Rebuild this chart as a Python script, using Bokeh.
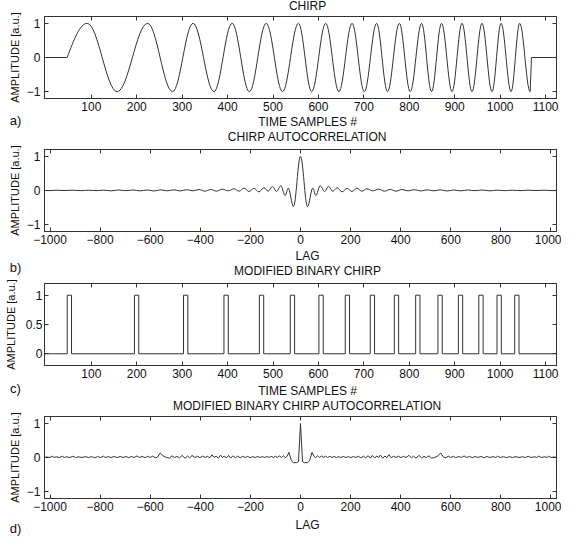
import numpy as np
from bokeh.plotting import figure
from bokeh.models import Range1d, LinearAxis, FixedTicker, ColumnDataSource
from bokeh.core.properties import value
from bokeh.layouts import column, row
from bokeh.embed import file_html
from bokeh.resources import INLINE

# ---------------- data ----------------
# a) chirp: start/stop of the burst and the positions of its extrema
chirp_on = 47
chirp_off = 1069
chirp_amp = 1.0
chirp_peaks = [91, 224, 324, 410, 485, 556, 616, 674, 728, 778, 827, 871, 916, 960, 1002, 1043]
chirp_troughs = [157, 279, 370, 448, 521, 585, 645, 701, 752, 802, 849, 894, 938, 982, 1024, 1066]

# b) chirp autocorrelation, extrema for lags >= 0 (the function is symmetric)
acf_lags = [0, 28, 49, 61, 79, 96, 112, 129, 146, 166, 186, 206, 225, 245, 265, 289, 312, 335, 358, 382,
            405, 430, 455, 480, 505, 532, 558, 585, 612, 640, 668, 697, 726, 756, 786, 816, 846, 877, 908, 940,
            972, 1004, 1022]
acf_vals = [1.0, -0.47, 0.07, -0.15, 0.14, -0.03, 0.12, -0.02, 0.08, -0.04, 0.06, -0.03, 0.07, -0.02, 0.05,
            -0.01, 0.04, -0.02, 0.03, -0.02, 0.03, -0.01, 0.025, -0.015, 0.02, -0.01, 0.02, -0.015, 0.015, -0.01,
            0.015, -0.005, 0.015, -0.01, 0.01, -0.005, 0.01, -0.005, 0.01, 0.0, 0.008, -0.003, 0.0]

# c) modified binary chirp: pulse start positions and pulse width
pulse_starts = [47, 195, 303, 392, 470, 538, 601, 659, 714, 767, 814, 863, 908, 953, 993, 1032]
pulse_width = 9.5
pulse_height = 1.0

# d) binary chirp autocorrelation, lags >= 0 (symmetric)
bacf_lags = [0, 8, 15, 28, 36, 46, 55, 61, 68, 76, 84, 92, 100, 108, 117, 125, 134, 143, 152, 161, 171, 181,
             191, 201, 211, 221, 231, 241, 251, 260, 270, 279, 287, 296, 305, 312, 319, 328, 337, 345, 353, 362,
             372, 381, 391, 401, 411, 421, 433, 443, 451, 461, 473, 483, 493, 503, 513, 523, 534, 545, 560, 571,
             580, 590, 600, 610, 620, 632, 643, 653, 664, 675, 686, 697, 708, 720, 732, 744, 756, 768, 780, 787,
             797, 810, 822, 834, 846, 860, 872, 886, 898, 909, 920, 935, 943, 951, 961, 976, 984, 991, 1000, 1012,
             1022]
bacf_vals = [1.0, -0.12, -0.15, -0.15, -0.1, 0.15, 0.02, 0.0, 0.05, 0.0, 0.045, 0.005, 0.035, 0.0, 0.035, 0.0,
             0.03, 0.0, 0.025, 0.0, 0.03, 0.0, 0.025, -0.005, 0.03, 0.0, 0.035, -0.01, 0.04, -0.01, 0.05, -0.02,
             0.06, -0.01, 0.04, 0.0, 0.07, -0.02, 0.04, 0.0, 0.08, -0.01, 0.035, 0.0, 0.04, -0.005, 0.035, 0.0,
             0.06, -0.01, 0.04, -0.02, 0.06, -0.01, 0.03, 0.0, 0.05, -0.02, 0.0, 0.03, 0.13, 0.01, -0.01, 0.04,
             0.0, 0.035, -0.005, 0.03, 0.0, 0.045, 0.0, 0.03, -0.005, 0.03, 0.0, 0.03, -0.005, 0.03, 0.0, 0.025,
             0.0, 0.04, 0.0, 0.025, -0.005, 0.025, 0.0, 0.025, 0.0, 0.02, 0.0, 0.035, 0.0, 0.02, 0.0, 0.04, 0.0,
             0.02, 0.0, 0.04, 0.0, 0.015, 0.0]

time_ticks = [100, 200, 300, 400, 500, 600, 700, 800, 900, 1000, 1100]
lag_ticks = [-1000, -800, -600, -400, -200, 0, 200, 400, 600, 800, 1000]
amp_ticks = [-1, 0, 1]
bin_ticks = [0, 0.5, 1]

titles = ["CHIRP", "CHIRP AUTOCORRELATION", "MODIFIED BINARY CHIRP", "MODIFIED BINARY CHIRP AUTOCORRELATION"]
xlabels = ["TIME SAMPLES #", "LAG", "TIME SAMPLES #", "LAG"]
ylabel = "AMPLITUDE [a.u.]"
panel_tags = ["a)", "b)", "c)", "d)"]

# ---------------- layout / style ----------------
FONT = "Liberation Sans"
LINE = "#333333"
TXT = "#111111"
FW, FH = 514, 82
SIDE = 22                 # width of the left text column
LB, RB, BB = 20, 5, 18
W = LB + FW + RB
CX = LB + FW / 2          # horizontal centre of the frames, in strip pixels
TOTAL_H = 536
TIME_RANGE = (-3, 1124)
LAG_RANGE = (-1022, 1022)
AMP_RANGE = (-1.2, 1.2)
BIN_RANGE = (-0.2, 1.2)
K_HALF = 0.3634   # cubic control offset for a half sine wave
K_Q1, K_Q2, K_QY = 0.3333, 0.6403, 0.5236  # quarter sine wave


def fmt(t):
    return f"{t:g}".replace("-", "\u2212")


def add_axes(p, xt, yt, ystand):
    for loc, ticks, show in (("below", xt, True), ("left", yt, True), ("above", xt, False), ("right", yt, False)):
        ax = LinearAxis(ticker=FixedTicker(ticks=ticks))
        ax.axis_line_color = LINE
        ax.major_tick_line_color = LINE
        ax.major_tick_in = 4
        ax.major_tick_out = 0
        ax.minor_tick_line_color = None
        ax.major_label_text_font = FONT
        ax.major_label_text_font_size = "12px"
        ax.major_label_text_color = TXT
        if show:
            ax.major_label_overrides = {t: fmt(t) for t in ticks}
            ax.major_label_standoff = 3 if loc == "below" else ystand
        else:
            ax.major_label_overrides = {t: "" for t in ticks}
            ax.major_label_standoff = 0
        p.add_layout(ax, loc)


def make_panel(xr, yr, xt, yt, ystand=4):
    p = figure(width=W, height=FH + BB,
               x_range=Range1d(*xr), y_range=Range1d(*yr),
               output_backend="svg", toolbar_location=None, title=None,
               x_axis_type=None, y_axis_type=None,
               min_border_left=LB, min_border_right=RB, min_border_top=0, min_border_bottom=BB)
    p.outline_line_color = LINE
    p.background_fill_color = "white"
    p.border_fill_color = "white"
    add_axes(p, xt, yt, ystand)
    return p


def make_strip(w, h, items):
    s = figure(width=w, height=h, x_range=Range1d(0, w), y_range=Range1d(0, h),
               output_backend="svg", toolbar_location=None, title=None,
               x_axis_type=None, y_axis_type=None, min_border=0,
               min_border_left=0, min_border_right=0, min_border_top=0, min_border_bottom=0)
    s.outline_line_color = None
    s.background_fill_color = "white"
    s.border_fill_color = "white"
    for x, y, t, size, ang in items:
        s.text(x=[x], y=[y], text=[t], text_font=value(FONT), text_font_size=value(size), angle=ang,
               text_align="center", text_baseline="middle", text_color=TXT)
    return s


def half_wave_source(xs, ys):
    x0 = np.asarray(xs[:-1], float); x1 = np.asarray(xs[1:], float)
    y0 = np.asarray(ys[:-1], float); y1 = np.asarray(ys[1:], float)
    d = x1 - x0
    return ColumnDataSource(dict(x0=x0, y0=y0, x1=x1, y1=y1,
                                 cx0=x0 + K_HALF * d, cy0=y0, cx1=x1 - K_HALF * d, cy1=y1))


def draw_bez(p, src):
    p.bezier(x0="x0", y0="y0", x1="x1", y1="y1", cx0="cx0", cy0="cy0", cx1="cx1", cy1="cy1",
             source=src, line_color=LINE, line_width=1)


# ---------------- a) chirp ----------------
pa = make_panel(TIME_RANGE, AMP_RANGE, time_ticks, amp_ticks)
ext_x = sorted(chirp_peaks + chirp_troughs)
ext_y = [chirp_amp if x in chirp_peaks else -chirp_amp for x in ext_x]
pa.line([TIME_RANGE[0], chirp_on], [0, 0], line_color=LINE, line_width=1)
dq = ext_x[0] - chirp_on
pa.bezier(x0=[chirp_on], y0=[0], x1=[ext_x[0]], y1=[ext_y[0]],
          cx0=[chirp_on + K_Q1 * dq], cy0=[K_QY * ext_y[0]], cx1=[chirp_on + K_Q2 * dq], cy1=[ext_y[0]],
          line_color=LINE, line_width=1)
draw_bez(pa, half_wave_source(ext_x, ext_y))
pa.line([ext_x[-1], chirp_off, TIME_RANGE[1]], [ext_y[-1], 0, 0], line_color=LINE, line_width=1)

# ---------------- b) chirp autocorrelation ----------------
pb = make_panel(LAG_RANGE, AMP_RANGE, lag_ticks, amp_ticks)
b_x = [-l for l in acf_lags[:0:-1]] + acf_lags
b_y = acf_vals[:0:-1] + acf_vals
draw_bez(pb, half_wave_source(b_x, b_y))

# ---------------- c) modified binary chirp ----------------
pc = make_panel(TIME_RANGE, BIN_RANGE, time_ticks, bin_ticks, ystand=2)
c_x = [TIME_RANGE[0]]
c_y = [0]
for s in pulse_starts:
    c_x += [s, s, s + pulse_width, s + pulse_width]
    c_y += [0, pulse_height, pulse_height, 0]
c_x.append(TIME_RANGE[1]); c_y.append(0)
pc.line(c_x, c_y, line_color=LINE, line_width=1)

# ---------------- d) binary chirp autocorrelation ----------------
pd_ = make_panel(LAG_RANGE, AMP_RANGE, lag_ticks, amp_ticks)
d_x = [-l for l in bacf_lags[:0:-1]] + bacf_lags
d_y = bacf_vals[:0:-1] + bacf_vals
pd_.line(d_x, d_y, line_color=LINE, line_width=1)

# ---------------- text strips between the panels ----------------
s0 = make_strip(W, 16, [(CX, 11, titles[0], "12px", 0)])
s1 = make_strip(W, 33, [(CX, 28, xlabels[0], "12px", 0), (CX, 13, titles[1], "12px", 0)])
s2 = make_strip(W, 34, [(CX, 28, xlabels[1], "12px", 0), (CX, 13, titles[2], "12px", 0)])
s3 = make_strip(W, 33, [(CX, 26, xlabels[2], "12px", 0), (CX, 11, titles[3], "12px", 0)])
s4 = make_strip(W, 20, [(CX, 12, xlabels[3], "12px", 0)])

# left column: y-axis labels (rotated) and panel tags; y measured from the bottom of the page block
rot = np.pi / 2
side = make_strip(SIDE, TOTAL_H, [
    (14, 479, ylabel, "11px", rot), (14, 346, ylabel, "11px", rot),
    (10.5, 212, ylabel, "11px", rot), (14, 79, ylabel, "11px", rot),
    (15, 416, panel_tags[0], "13px", 0), (15, 269, panel_tags[1], "13px", 0),
    (15, 148, panel_tags[2], "13px", 0), (15, 8, panel_tags[3], "13px", 0),
])

right = column(s0, pa, s1, pb, s2, pc, s3, pd_, s4, spacing=0)
layout = row(side, right, spacing=0)
open("out.html", "w").write(file_html(layout, INLINE))
